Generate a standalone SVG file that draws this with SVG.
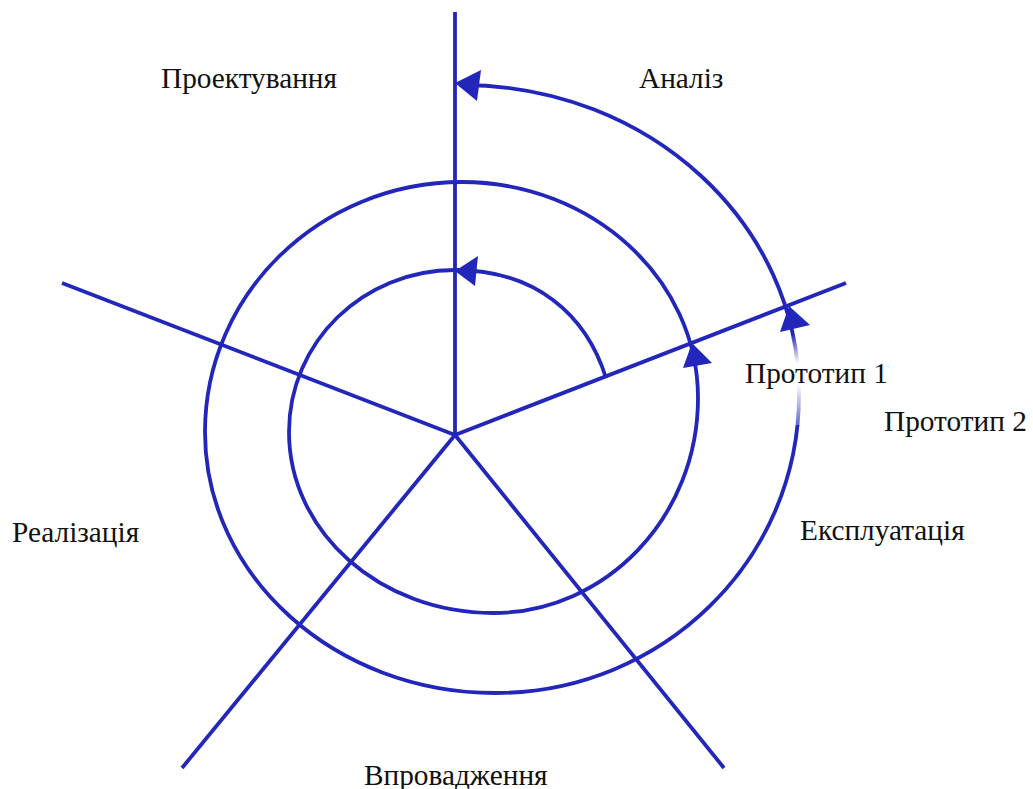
<svg xmlns="http://www.w3.org/2000/svg" width="1033" height="789" viewBox="0 0 1033 789">
  <style>
    .ln { stroke: #2226BA; stroke-width: 3.8; fill: none; stroke-linecap: butt; }
    .ah { fill: #2226BA; stroke: none; }
    .lbl { font-family: "Liberation Serif", "Times New Roman", serif; font-size: 29.3px; fill: #111; }
  </style>
  <defs>
    <linearGradient id="fade" x1="0" y1="0" x2="0" y2="1">
      <stop offset="0" stop-color="#fff" stop-opacity="0"/>
      <stop offset="0.32" stop-color="#fff" stop-opacity="1"/>
      <stop offset="0.55" stop-color="#fff" stop-opacity="1"/>
      <stop offset="1" stop-color="#fff" stop-opacity="0.3"/>
    </linearGradient>
  </defs>
  <rect width="1033" height="789" fill="#fff"/>

  <g id="axes">
    <line class="ln" x1="455" y1="12" x2="455" y2="435"/>
    <line class="ln" x1="455" y1="435" x2="846" y2="283"/>
    <line class="ln" x1="455" y1="435" x2="62" y2="283"/>
    <line class="ln" x1="455" y1="435" x2="182" y2="768"/>
    <line class="ln" x1="455" y1="435" x2="724" y2="768"/>
  </g>

  <g id="connectors">
    <path class="ln" d="M606,378 C586,314 535,270 455,270
      C363,270 289,342 289,432
      C289,532 380,613 493,613
      C606,613 698,517 698,398
      C698,279 592,182 462,182
      C320,182 205,294 205,432
      C205,576 335,693 495,693
      C663,693 799,560 799,395
      C800,225 650,85 462,85"/>
    <rect x="789" y="334" width="18" height="91" fill="url(#fade)"/>
    <polygon class="ah" points="455,83 481,70 477,101"/>
    <polygon class="ah" points="455,271 478,256 475,286"/>
    <polygon class="ah" points="692,343 683,368 712,363"/>
    <polygon class="ah" points="789,306 780,332 810,325"/>
  </g>

  <g id="label-proektuvannia"><text class="lbl" x="161" y="88">Проектування</text></g>
  <g id="label-analiz"><text class="lbl" x="639" y="88">Аналіз</text></g>
  <g id="label-prototyp1"><text class="lbl" x="745" y="383">Прототип 1</text></g>
  <g id="label-prototyp2"><text class="lbl" x="884" y="431">Прототип 2</text></g>
  <g id="label-ekspluatatsiia"><text class="lbl" x="800" y="540">Експлуатація</text></g>
  <g id="label-realizatsiia"><text class="lbl" x="12" y="542">Реалізація</text></g>
  <g id="label-vprovadzhennia"><text class="lbl" x="364" y="785">Впровадження</text></g>
</svg>
